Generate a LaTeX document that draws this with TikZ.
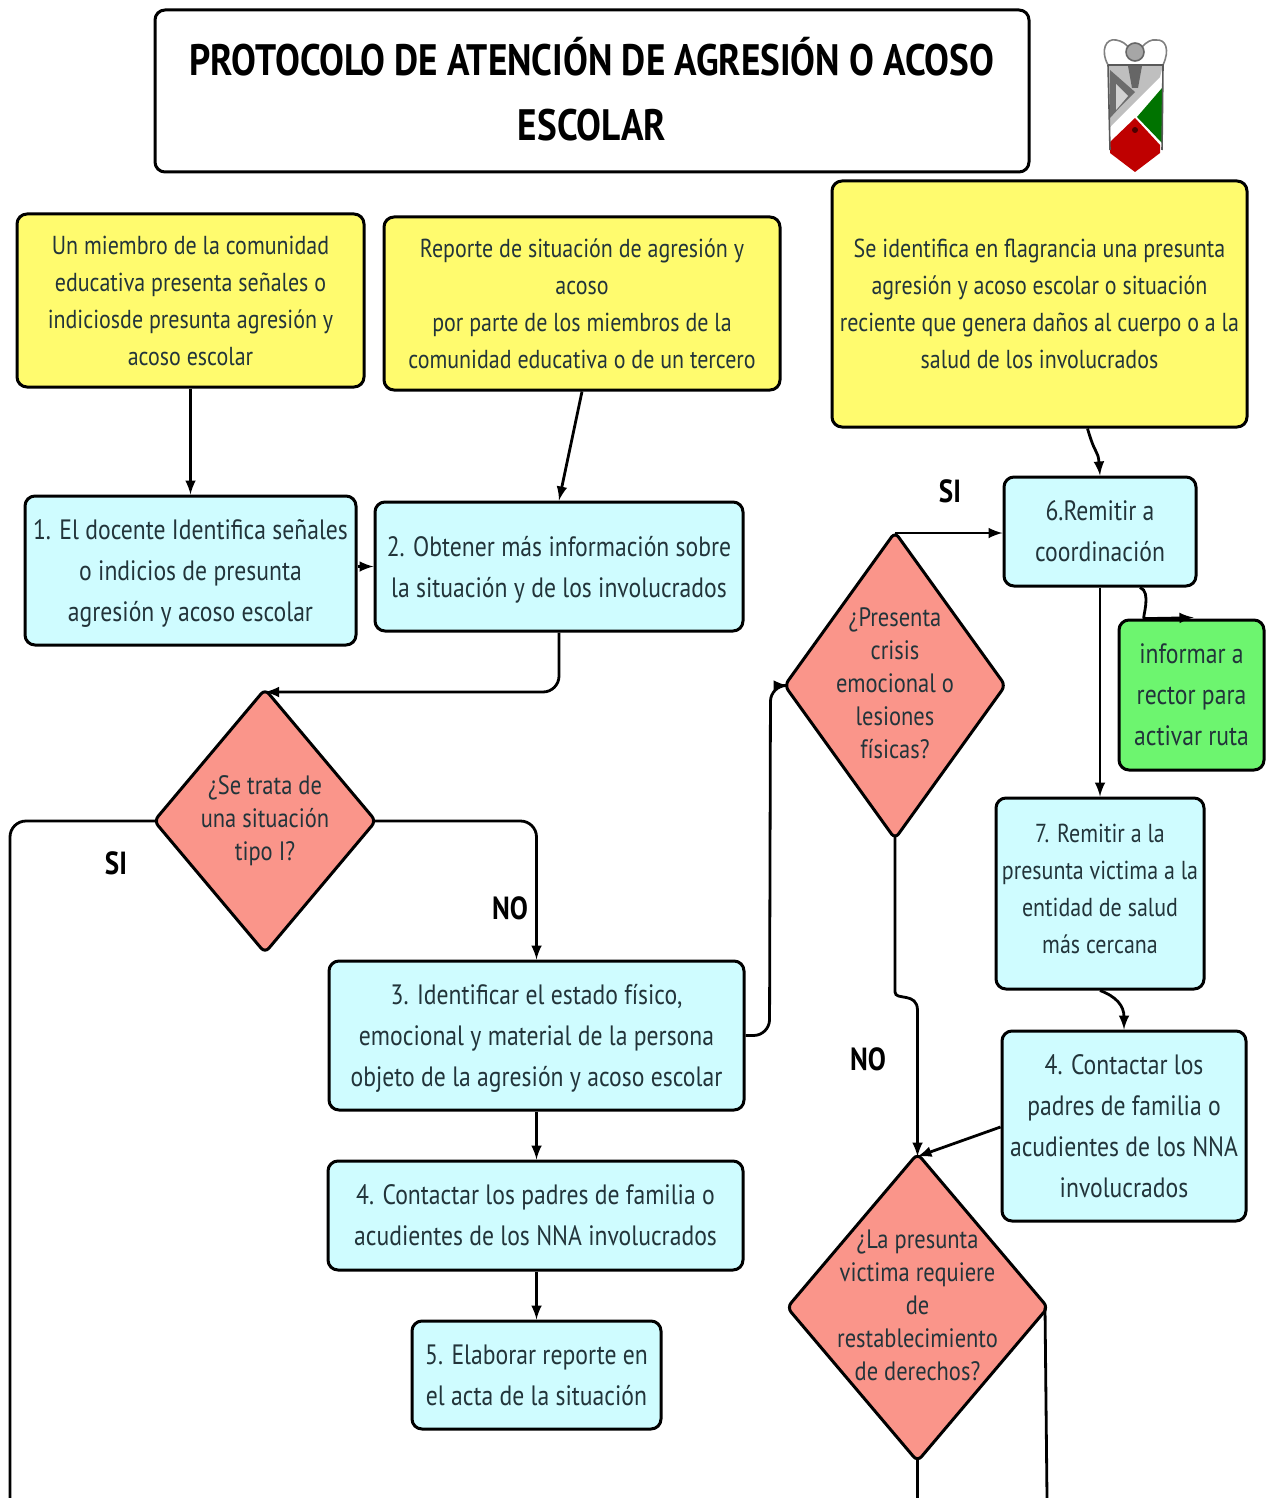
\documentclass[tikz,border=0pt]{standalone}
\usepackage{fontspec}
\setmainfont[FakeStretch=0.845]{PT Sans}
\usetikzlibrary{shapes.geometric,calc}
\definecolor{boxyellow}{HTML}{FFFB6E}
\definecolor{boxblue}{HTML}{CFFCFF}
\definecolor{boxgreen}{HTML}{6DF56F}
\definecolor{boxsalmon}{HTML}{FA958A}
\definecolor{inkdark}{HTML}{22343A}
\tikzset{
  stepbox/.style={draw=black, line width=1.5pt, rounded corners=5pt, inner sep=0pt, align=center, text=inkdark},
  titlebox/.style={stepbox, fill=white, text=black, text depth=2pt, font=\fontsize{22}{32.5}\selectfont\bfseries},
  reportbox/.style={stepbox, fill=boxyellow, font=\fontsize{13}{18.5}\selectfont},
  actionbox/.style={stepbox, fill=boxblue, text depth=-1pt, font=\fontsize{14}{20.5}\selectfont},
  smallaction/.style={stepbox, fill=boxblue, text depth=5pt, font=\fontsize{13}{18.5}\selectfont},
  rectorbox/.style={stepbox, fill=boxgreen, text depth=-3pt, font=\fontsize{14}{20.5}\selectfont},
  questionbox/.style={diamond, draw=black, line width=1.5pt, rounded corners=3pt, outer sep=-1pt, fill=boxsalmon, inner sep=0pt},
  questiontext/.style={align=center, inner sep=0pt, text=inkdark, font=\fontsize{13.3}{16.5}\selectfont},
  answerlabel/.style={inner sep=0pt, text=black, font=\fontsize{16}{18}\selectfont\bfseries},
  link/.style={line width=1.4pt, rounded corners=8pt}
}
\begin{document}
\begin{tikzpicture}[x=0.5pt, y=-0.5pt, >=latex]
    \useasboundingbox (0,0) rectangle (1269,1498);
    \node[titlebox, minimum width=437pt, minimum height=81pt] (title) at (592,91) {PROTOCOLO DE ATENCIÓN DE AGRESIÓN O ACOSO\\ESCOLAR};

    % logo
    \fill[white, draw=gray, line width=0.8pt] (1108,65) .. controls (1100,50) and (1106,38) .. (1116,40) .. controls (1122,41) and (1126,44) .. (1128,47) -- (1142,47) .. controls (1146,42) and (1152,39) .. (1156,40) .. controls (1166,39) and (1170,50) .. (1163,65) -- cycle;
    \fill[gray!70, draw=gray!80!black, line width=0.8pt] (1135,52) circle (9);
    \fill[gray!50] (1108,65) -- (1163,65) -- (1160,77) -- (1110,127) -- cycle;
    \fill[gray!85!black] (1110,70) -- (1135,92) -- (1122,105) -- (1110,118) -- cycle;
    \fill[gray!35] (1116,84) -- (1128,96) -- (1116,110) -- cycle;
    \fill[gray!80!black] (1128,66) -- (1142,66) -- (1138,88) -- (1132,88) -- cycle;
    \fill[green!45!black] (1162,88) -- (1162,143) -- (1137,117) -- cycle;
    \fill[red!75!black] (1135,118) -- (1160,145) -- (1160,153) -- (1135,172) -- (1110,153) -- (1110,142) -- cycle;
    \fill[black!70!red] (1135,130) circle (3);
    \draw[gray!70!black, line width=0.8pt] (1108,65) -- (1163,65) -- (1162,150) (1108,65) -- (1110,150);

    % reportes
    \node[reportbox, minimum width=173.5pt, minimum height=86.5pt] (miembro) at (190.5,300.5) {Un miembro de la comunidad\\educativa presenta señales o\\indiciosde presunta agresión y\\acoso escolar};
    \node[reportbox, minimum width=198pt, minimum height=86.5pt] (reporte) at (582,303.5) {Reporte de situación de agresión y\\acoso\\por parte de los miembros de la\\comunidad educativa o de un tercero};
    \node[reportbox, minimum width=207.5pt, minimum height=123pt] (flagrancia) at (1039.5,304) {Se identifica en flagrancia una presunta\\agresión y acoso escolar o situación\\reciente que genera daños al cuerpo o a la\\salud de los involucrados};

    % acciones
    \node[actionbox, minimum width=165.5pt, minimum height=74.5pt] (docente) at (190.5,570.5) {1. El docente Identifica señales\\o indicios de presunta\\agresión y acoso escolar};
    \node[actionbox, minimum width=184pt, minimum height=64.5pt] (informacion) at (559,566.5) {2. Obtener más información sobre\\la situación y de los involucrados};
    \node[actionbox, minimum width=207.5pt, minimum height=74.5pt] (estado) at (536.5,1035.5) {3. Identificar el estado físico,\\emocional y material de la persona\\objeto de la agresión y acoso escolar};
    \node[actionbox, text depth=-3pt, minimum width=207.5pt, minimum height=54.5pt] (padres) at (535.5,1215.5) {4. Contactar los padres de familia o\\acudientes de los NNA involucrados};
    \node[actionbox, text depth=-2pt, minimum width=124.5pt, minimum height=54pt] (acta) at (536.5,1375) {5. Elaborar reporte en\\el acta de la situación};
    \node[actionbox, text depth=-3pt, minimum width=96pt, minimum height=54.5pt] (coordinacion) at (1100,531.5) {6.Remitir a\\coordinación};
    \node[rectorbox, minimum width=72.5pt, minimum height=75pt] (rector) at (1191.5,695) {informar a\\rector para\\activar ruta};
    \node[smallaction, minimum width=104pt, minimum height=95.5pt] (salud) at (1100,893.5) {7. Remitir a la\\presunta victima a la\\entidad de salud\\más cercana};
    \node[actionbox, minimum width=122pt, minimum height=95pt] (acudientes) at (1124,1126) {4. Contactar los\\padres de familia o\\acudientes de los NNA\\involucrados};

    % preguntas
    \node[questionbox, minimum width=110pt, minimum height=131pt, label={[questiontext]center:{¿Se trata de\\una situación\\tipo I?}}] (tipouno) at (265,821) {};
    \node[questionbox, minimum width=109.5pt, minimum height=152.5pt, label={[questiontext, yshift=1pt]center:{¿Presenta\\crisis\\emocional o\\lesiones\\físicas?}}] (crisis) at (895,685.5) {};
    \node[questionbox, minimum width=129.5pt, minimum height=153pt, label={[questiontext, yshift=1pt]center:{¿La presunta\\victima requiere\\de\\restablecimiento\\de derechos?}}] (derechos) at (917.5,1307.5) {};

    \foreach \Point/\Name/\Word in {(950,491)/sicrisis/SI, (116,863)/situno/SI, (510,908)/notipo/NO, (868,1059)/nocrisis/NO}{
        \node[answerlabel] (\Name) at \Point {\Word};
    }

    % salidas por el borde inferior
    \coordinate (salidasi) at (10,1498);
    \coordinate (salidano) at (917.5,1498);
    \coordinate (salidader) at (1047,1498);

    \draw[->, link] (miembro.south) -- (docente.north);
    \draw[->, link] (reporte.south) -- (informacion.north);
    \draw[->, link] ($(flagrancia.south)+(48,0)$) .. controls ($(flagrancia.south)+(56,28)$) and ($(coordinacion.north)+(-2,-26)$) .. (coordinacion.north);
    \draw[->, link] (docente.east |- informacion.west) -- (informacion.west);
    \draw[->, link] (informacion.south) -- (informacion.south |- tipouno.north) -- (tipouno.north);
    \draw[link] (tipouno.west) -- (salidasi |- tipouno.west) -- (salidasi);
    \draw[->, link] (tipouno.east) -- (estado.north |- tipouno.east) -- (estado.north);
    \draw[->, link] (estado.east) -- ($(estado.east)+(24,0)$) -- ($(crisis.west)+(-17,0)$) -- (crisis.west);
    \draw[->, link] (estado.south) -- (padres.north -| estado.south);
    \draw[->, link] (padres.south -| acta.north) -- (acta.north);
    \draw[->, link] ($(crisis.north)+(0,-2)$) -- (coordinacion.west |- 0,533);
    \draw[->, link] (crisis.south) -- ($(crisis.south)+(0,140)$) .. controls ($(crisis.south)+(0,165)$) and ($(derechos.north)+(0,-165)$) .. ($(derechos.north)+(0,-130)$) -- (derechos.north);
    \draw[->, link] (coordinacion.south) -- (salud.north);
    \draw[->, link] ($(coordinacion.south)+(40,0)$) .. controls ($(coordinacion.south)+(52,4)$) and ($(coordinacion.south)+(42,31)$) .. ($(coordinacion.south)+(60,31)$) -- ($(rector.north)+(2,-1)$);
    \draw[->, link] (salud.south) .. controls ($(salud.south)+(16,6)$) and ($(acudientes.north)+(0,-24)$) .. (acudientes.north);
    \draw[->, link] ($(acudientes.west)+(0,1)$) -- (derechos.north);
    \draw[link] (derechos.south) -- (salidano);
    \draw[link] (derechos.east) -- (salidader);
\end{tikzpicture}
\end{document}
